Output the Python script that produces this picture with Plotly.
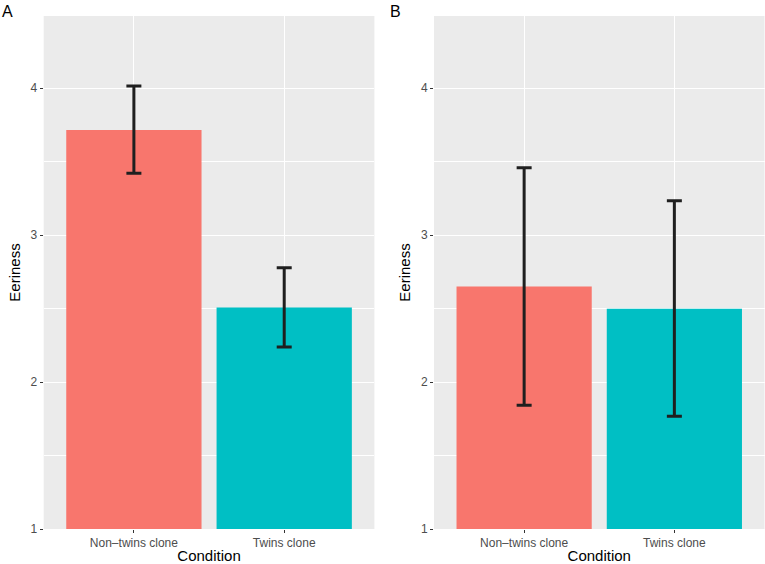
import plotly.graph_objects as go

categories = ["Non\u2013twins clone", "Twins clone"]
colors = ["#F8766D", "#00BFC4"]

means_a = [3.714, 2.507]
upper_a = [4.014, 2.778]
lower_a = [3.420, 2.238]

means_b = [2.649, 2.498]
upper_b = [3.457, 3.233]
lower_b = [1.842, 1.767]

y_ticks = [1, 2, 3, 4]
y_minor = [1.5, 2.5, 3.5]
y_range = [1, 4.49]

FONT = "Liberation Sans, Arial, sans-serif"

fig = go.Figure()

for means, upper, lower, xa, ya in [(means_a, upper_a, lower_a, "x", "y"),
                                   (means_b, upper_b, lower_b, "x2", "y2")]:
    fig.add_trace(go.Bar(
        x=categories, y=[m - y_range[0] for m in means], base=y_range[0],
        marker=dict(color=colors, line=dict(width=0)),
        width=0.9,
        error_y=dict(type="data", symmetric=False,
                     array=[u - m for u, m in zip(upper, means)],
                     arrayminus=[m - l for m, l in zip(means, lower)],
                     color="#1f1f1f", thickness=3, width=7.5),
        xaxis=xa, yaxis=ya, showlegend=False, hoverinfo="skip",
    ))

W, H = 765, 564
ml, mr, mt, mb = 0, 0, 16, 35
pw = W - ml - mr
dom_a = [43.7 / pw, 374.4 / pw]
dom_b = [434.0 / pw, 764.5 / pw]

def xaxis(dom, anchor):
    return dict(domain=dom, anchor=anchor, range=[-0.6, 1.6],
                showgrid=True, gridcolor="white", gridwidth=1.1,
                ticks="outside", ticklen=3, tickcolor="#333333", tickwidth=1,
                tickfont=dict(family=FONT, size=12, color="#4D4D4D"),
                title=dict(text="Condition", font=dict(family=FONT, size=15, color="black"),
                           standoff=1),
                zeroline=False, showline=False, fixedrange=True)

def yaxis(anchor):
    return dict(anchor=anchor, domain=[0, 1], range=y_range,
                tickmode="array", tickvals=y_ticks, ticktext=[str(t) for t in y_ticks],
                showgrid=True, gridcolor="white", gridwidth=1.1,
                minor=dict(tickmode="array", tickvals=y_minor, showgrid=True,
                           gridcolor="white", gridwidth=0.5, ticks=""),
                ticks="outside", ticklen=3, tickcolor="#333333", tickwidth=1,
                tickfont=dict(family=FONT, size=12, color="#4D4D4D"),
                title=dict(text="Eeriness", font=dict(family=FONT, size=15, color="black"),
                           standoff=6),
                zeroline=False, showline=False, fixedrange=True)

fig.update_layout(
    width=W, height=H,
    margin=dict(l=ml, r=mr, t=mt, b=mb, autoexpand=False),
    paper_bgcolor="white", plot_bgcolor="#EBEBEB",
    xaxis=xaxis(dom_a, "y"), yaxis=yaxis("x"),
    xaxis2=xaxis(dom_b, "y2"), yaxis2=yaxis("x2"),
    bargap=0.1,
    annotations=[
        dict(text="A", xref="paper", yref="paper", x=0, y=1, yshift=mt - 1,
             xanchor="left", yanchor="top", showarrow=False,
             font=dict(family=FONT, size=16, color="black")),
        dict(text="B", xref="paper", yref="paper", x=388 / pw, y=1, yshift=mt - 1,
             xanchor="left", yanchor="top", showarrow=False,
             font=dict(family=FONT, size=16, color="black")),
    ],
)

fig.write_html("out.html", config={"displayModeBar": False},
               post_script="document.body.style.margin='0px';document.body.style.overflow='hidden';")
